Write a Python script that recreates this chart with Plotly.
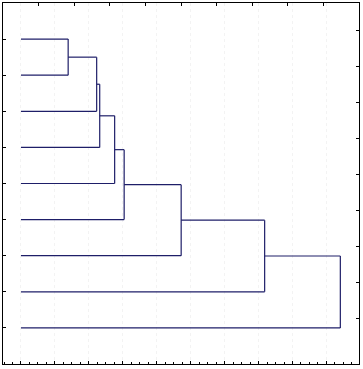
import plotly.graph_objects as go

# Leaves, top to bottom (positions 1..9 on the y axis)
leaf_pos = [1, 2, 3, 4, 5, 6, 7, 8, 9]
# Agglomeration: each step joins the previous cluster with the next leaf
merge_heights = [1.39, 2.23, 2.32, 2.76, 3.04, 4.72, 7.18, 9.41]

LINE = "#1e1e68"
fig = go.Figure()

def seg(xs, ys):
    fig.add_trace(go.Scatter(x=xs, y=ys, mode="lines",
                             line=dict(color=LINE, width=1.2),
                             hoverinfo="skip", showlegend=False))

cur_y = leaf_pos[0]
cur_h = 0.0
for i, h in enumerate(merge_heights):
    new_y = leaf_pos[i + 1]
    seg([cur_h, h], [cur_y, cur_y])
    seg([0, h], [new_y, new_y])
    seg([h, h], [cur_y, new_y])
    cur_y = (cur_y + new_y) / 2
    cur_h = h

# invisible trace to activate secondary axes
fig.add_trace(go.Scatter(x=[0], y=[0], xaxis="x2", yaxis="y2", mode="markers",
                         marker=dict(opacity=0), hoverinfo="skip", showlegend=False))

fig.update_layout(
    width=363, height=369,
    margin=dict(l=3, r=3.5, t=3, b=5),
    paper_bgcolor="white", plot_bgcolor="white",
    xaxis=dict(range=[-0.53, 9.96], showgrid=True, gridcolor="#f3f3f3", griddash="dot",
               gridwidth=1, tickvals=list(range(0, 10)), ticks="inside", ticklen=3,
               tickcolor="black", showticklabels=False, zeroline=False,
               showline=True, linecolor="black", linewidth=1.2, mirror=False,
               minor=dict(dtick=0.25, tick0=0, ticks="inside", ticklen=2, tickcolor="black", showgrid=False)),
    yaxis=dict(range=[10, 0], showgrid=False, tickvals=leaf_pos, ticks="inside", ticklen=3,
               tickcolor="black", showticklabels=False, zeroline=False,
               showline=True, linecolor="black", linewidth=1.2, mirror=False),
    xaxis2=dict(range=[0, 10], overlaying="x", side="top", tickvals=list(range(1, 10)),
                ticks="inside", ticklen=3, tickcolor="black", showticklabels=False,
                showgrid=False, zeroline=False, showline=True, linecolor="black", linewidth=1.2),
    yaxis2=dict(range=[10, 0], overlaying="y", side="right",
                tickvals=[0.75 + k for k in range(9)], ticks="inside", ticklen=3,
                tickcolor="black", showticklabels=False, showgrid=False, zeroline=False,
                showline=True, linecolor="black", linewidth=1.2),
)

fig.write_html("out.html", config={"displayModeBar": False},
               post_script="document.body.style.margin='0';document.body.style.padding='0';")
